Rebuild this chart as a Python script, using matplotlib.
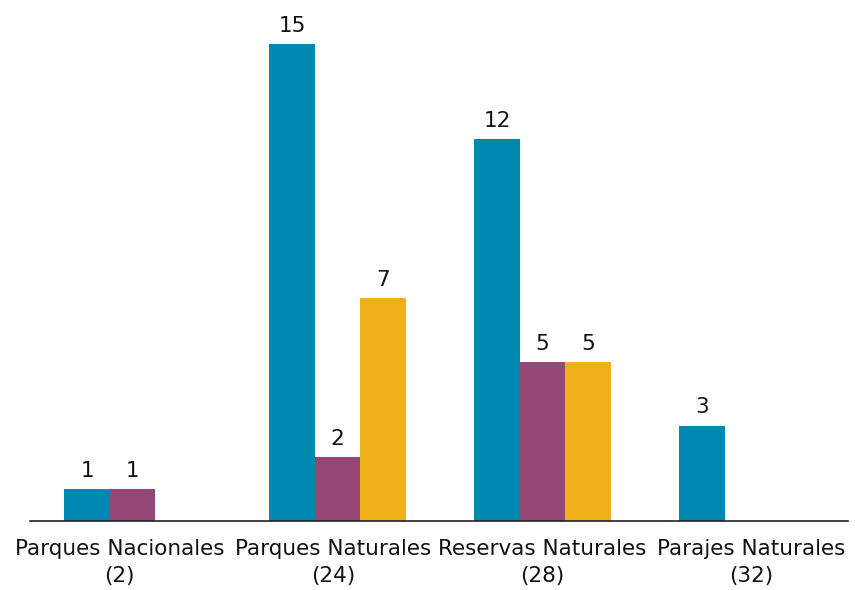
import matplotlib
matplotlib.use("Agg")
from matplotlib import pyplot as plt
import matplotlib.transforms as mtransforms
import numpy as np

categories = ["Parques Nacionales\n(2)", "Parques Naturales\n(24)",
              "Reservas Naturales\n(28)", "Parajes Naturales\n(32)"]
serie_a = [1, 15, 12, 3]
serie_b = [1, 2, 5, 0]
serie_c = [0, 7, 5, 0]

colors = ["#0089B0", "#954876", "#F0B019"]

fig = plt.figure(figsize=(8.55, 5.9), dpi=100)
ax = fig.add_axes([30/855, 69/590, 818/855, 521/590])

x = np.arange(len(categories))
w = 45.5/205
for k, (vals, col) in enumerate(zip([serie_a, serie_b, serie_c], colors)):
    pos = x + (k - 1)*w
    for p, v in zip(pos, vals):
        if v == 0:
            continue
        ax.bar(p, v, width=w, color=col, linewidth=0)
        ax.annotate(str(v), (p, v), xytext=(0, 6), textcoords="offset points",
                    ha="center", va="bottom", fontsize=15.5, color="#111111")

ax.set_xlim(-0.5, 3.49)
ax.set_ylim(0, 521/31.8)

for s in ["top", "right", "left"]:
    ax.spines[s].set_visible(False)
ax.spines["bottom"].set_color("#222222")
ax.spines["bottom"].set_linewidth(1.2)
ax.set_yticks([])
ax.set_xticks([])

# category labels, nudged a little like the original
nudge = [-13, -4, 0, 4]
for xi, lab, dx in zip(x, categories, nudge):
    tr = ax.get_xaxis_transform() + mtransforms.ScaledTranslation(dx/100, -18/100, fig.dpi_scale_trans)
    ax.text(xi, 0, lab, transform=tr, ha="center", va="top", fontsize=15.5,
            color="#111111", linespacing=1.45)

plt.savefig("out.png", dpi=100)
